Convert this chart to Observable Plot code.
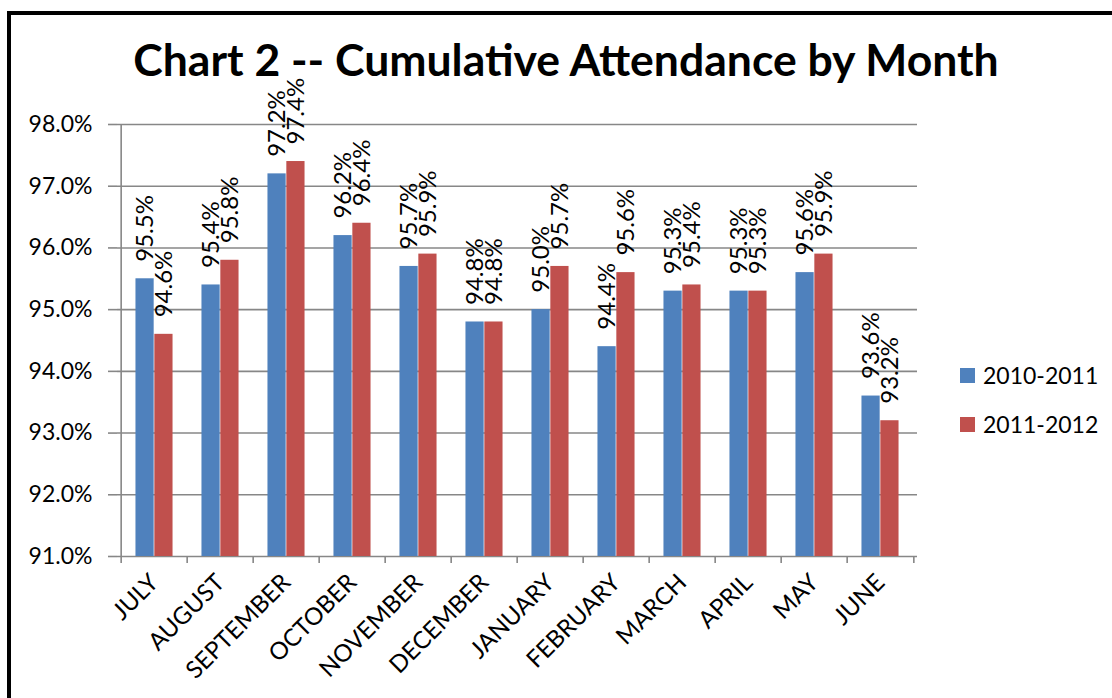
<!DOCTYPE html>
<html>
<head>
<meta charset="utf-8">
<script src="https://cdn.jsdelivr.net/npm/d3@7"></script>
<script src="https://cdn.jsdelivr.net/npm/@observablehq/plot@0.6"></script>
<style>
  html, body { margin: 0; padding: 0; background: #fff; overflow: hidden; }
  #wrap { position: relative; width: 1112px; height: 698px; font-family: Lato, "Open Sans", sans-serif; color: #000; }
  #chart { position: absolute; left: 0; top: 0; }
  #border { position: absolute; left: 7px; top: 11px; width: 1200px; height: 800px; border: 4px solid #000; border-right: none; border-bottom: none; box-sizing: border-box; pointer-events: none; }
  #title { position: absolute; left: 0; top: 37px; width: 1132px; text-align: center; font-weight: 700; font-size: 44.5px; line-height: 1; white-space: nowrap; }
  #legend { position: absolute; left: 960px; top: 362px; font-size: 23px; line-height: 1; }
  .item { display: flex; align-items: center; height: 27px; margin-bottom: 22px; }
  .swatch { width: 15px; height: 15px; margin-right: 8px; }
</style>
</head>
<body>
<div id="wrap">
  <div id="chart"></div>
  <div id="title"></div>
  <div id="legend"></div>
  <div id="border"></div>
</div>
<script>
// ---- data ----
const titleText = "Chart 2 -- Cumulative Attendance by Month";
const months = ["JULY", "AUGUST", "SEPTEMBER", "OCTOBER", "NOVEMBER", "DECEMBER",
                "JANUARY", "FEBRUARY", "MARCH", "APRIL", "MAY", "JUNE"];
const seriesNames = ["2010-2011", "2011-2012"];
const values2010_2011 = [95.5, 95.4, 97.2, 96.2, 95.7, 94.8, 95.0, 94.4, 95.3, 95.3, 95.6, 93.6];
const values2011_2012 = [94.6, 95.8, 97.4, 96.4, 95.9, 94.8, 95.7, 95.6, 95.4, 95.3, 95.9, 93.2];
const yTicks = [91, 92, 93, 94, 95, 96, 97, 98];
const colors = ["#4F81BD", "#C0504D"];

// ---- layout ----
const W = 1112, H = 698;
const mL = 117, mR = W - 917, mT = 124, mB = H - 556;
const bw = (W - mL - mR) / months.length;
const barPx = bw * 0.283;
const grid = "#878787";
const fmt = v => v.toFixed(1) + "%";

const rows = months.flatMap((m, i) => [
  {month: m, series: seriesNames[0], value: values2010_2011[i]},
  {month: m, series: seriesNames[1], value: values2011_2012[i]}
]);
const s0 = rows.filter(d => d.series === seriesNames[0]);
const s1 = rows.filter(d => d.series === seriesNames[1]);

const chart = Plot.plot({
  width: W, height: H,
  marginLeft: mL, marginRight: mR, marginTop: mT, marginBottom: mB,
  style: {fontFamily: "Lato, 'Open Sans', sans-serif", color: "#000", background: "transparent", overflow: "visible"},
  x: {type: "band", domain: months, padding: 0, axis: null},
  y: {domain: [91, 98], axis: null},
  marks: [
    Plot.gridY(yTicks, {stroke: grid, strokeOpacity: 1, strokeWidth: 1.6}),
    Plot.barY(s0, {x: "month", y1: 91, y2: "value", fill: colors[0], insetLeft: bw / 2 - barPx, insetRight: bw / 2}),
    Plot.barY(s1, {x: "month", y1: 91, y2: "value", fill: colors[1], insetLeft: bw / 2, insetRight: bw / 2 - barPx}),
    Plot.text(s0, {x: "month", y: "value", text: d => fmt(d.value), rotate: -90, textAnchor: "start", lineAnchor: "middle", dx: -barPx / 2, dy: -17, fontSize: 24, fill: "#000"}),
    Plot.text(s1, {x: "month", y: "value", text: d => fmt(d.value), rotate: -90, textAnchor: "start", lineAnchor: "middle", dx: barPx / 2, dy: -17, fontSize: 24, fill: "#000"}),
    Plot.axisY(yTicks, {tickSize: 9, tickPadding: 16, tickFormat: fmt, stroke: grid, strokeWidth: 1.6, fontSize: 23, label: null}),
    Plot.ruleX([0], {x: () => months[0], dx: -bw / 2, y1: 91, y2: 98, stroke: grid, strokeWidth: 1.6}),
    Plot.axisX({tickSize: 7, tickFormat: () => "", dx: -bw / 2, stroke: grid, strokeWidth: 1.6, label: null}),
    Plot.axisX([months[months.length - 1]], {tickSize: 7, tickFormat: () => "", dx: bw / 2, stroke: grid, strokeWidth: 1.6, label: null}),
    Plot.axisX({tickSize: 0, tickPadding: 22, tickRotate: -45, fontSize: 24, label: null})
  ]
});
document.getElementById("chart").appendChild(chart);

document.getElementById("title").textContent = titleText;
const legend = document.getElementById("legend");
seriesNames.forEach((s, i) => {
  const item = document.createElement("div");
  item.className = "item";
  const sw = document.createElement("div");
  sw.className = "swatch";
  sw.style.background = colors[i];
  const lab = document.createElement("span");
  lab.textContent = s;
  item.appendChild(sw); item.appendChild(lab);
  legend.appendChild(item);
});
</script>
</body>
</html>
